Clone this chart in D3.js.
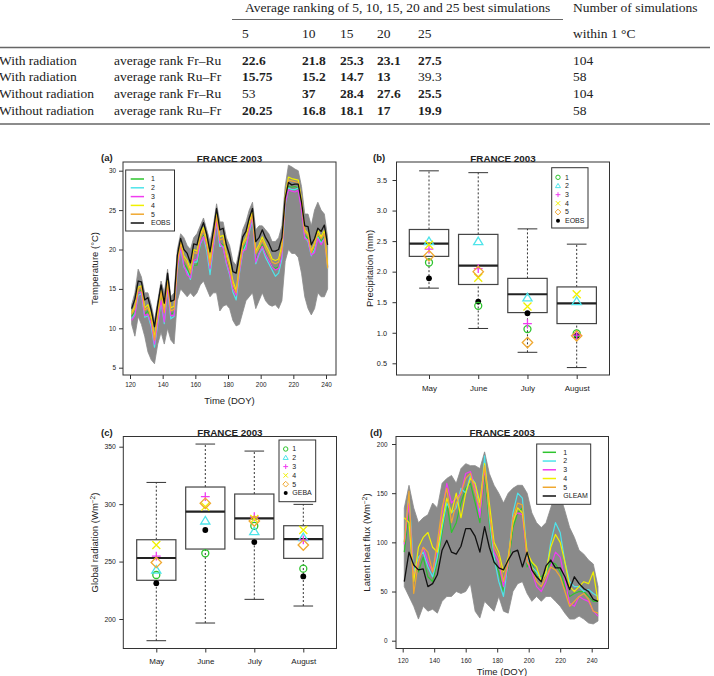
<!DOCTYPE html>
<html>
<head>
<meta charset="utf-8">
<script src="https://cdn.jsdelivr.net/npm/d3@7"></script>
<style>
  body { margin: 0; background: #fff; }
  svg text { font-family: "Liberation Sans", Arial, sans-serif; fill: #222; }
  .tbl text { font-family: "Liberation Serif", "Times New Roman", serif; font-size: 13.5px; fill: #222; }
</style>
</head>
<body>
<svg id="fig" width="714" height="676"></svg>
<script>
// ---------- table ----------
const tableCols = ["5", "10", "15", "20", "25"];
const tableRowLabels = ["With radiation", "With radiation", "Without radiation", "Without radiation"];
const tableRowRanks = ["average rank Fr–Ru", "average rank Ru–Fr", "average rank Fr–Ru", "average rank Ru–Fr"];
const tableValues = [
  ["22.6", "21.8", "25.3", "23.1", "27.5"],
  ["15.75", "15.2", "14.7", "13", "39.3"],
  ["53", "37", "28.4", "27.6", "25.5"],
  ["20.25", "16.8", "18.1", "17", "19.9"]
];
const tableBold = [[1, 1, 1, 1, 1], [1, 1, 1, 1, 0], [0, 1, 1, 1, 1], [1, 1, 1, 1, 1]];
const tableCount = ["104", "58", "104", "58"];

// ---------- series names ----------
const bestNames = ["1", "2", "3", "4", "5"];

// ---------- (a) temperature, DOY 121..241 every 2 days ----------
const tempDoy = d3.range(121, 242, 2);
const tempEobs = [12.5,13.7,16.0,15.9,13.6,13.9,12.3,10.2,13.0,15.5,13.2,17.0,13.4,13.6,19.3,21.4,20.0,19.5,18.3,20.7,20.6,22.3,23.4,21.9,19.7,22.3,25.2,22.5,22.7,20.6,19.3,17.2,17.0,19.3,21.6,22.3,24.0,25.2,21.0,21.5,22.5,21.5,20.8,19.8,19.8,20.0,21.5,26.5,28.5,28.2,28.3,28.3,26.0,23.0,22.9,20.6,21.4,22.7,22.3,23.1,20.6];
const temp1 = [11.5,12.2,14.6,14.8,11.8,12.2,10.8,8.2,11.2,14.0,11.0,15.5,11.8,12.0,17.8,20.5,18.2,17.6,16.6,18.0,18.0,20.5,21.8,20.2,17.4,20.6,23.8,20.8,20.6,18.6,17.2,15.2,14.6,17.4,20.0,20.8,22.4,24.0,18.6,19.8,20.6,19.6,18.6,17.8,17.6,17.8,19.4,26.0,28.0,27.9,28.0,27.8,25.4,21.8,21.4,19.4,20.2,21.8,21.0,21.6,17.8];
const temp2 = [11.2,11.8,14.2,14.4,11.4,11.6,10.2,7.6,10.6,13.4,10.6,15.0,11.2,11.5,17.4,20.2,17.8,17.2,16.2,18.4,18.4,20.6,21.6,19.8,16.8,20.2,23.4,20.4,20.4,18.2,16.8,14.6,13.6,17.0,19.6,20.6,22.2,23.8,18.2,19.4,20.2,19.0,18.2,17.4,16.6,17.0,18.8,25.6,27.8,27.6,27.6,27.8,25.2,21.6,21.0,19.2,20.0,21.6,20.8,21.4,17.6];
const temp3 = [11.0,11.6,14.6,14.6,11.6,11.8,10.6,8.0,10.8,13.6,10.8,15.2,11.6,11.6,17.6,20.4,18.0,16.8,16.4,18.6,18.8,20.8,21.6,20.4,17.6,20.4,23.6,20.8,20.2,18.4,17.0,15.0,14.2,17.2,19.8,20.0,22.4,24.2,18.4,19.6,20.4,19.4,18.6,17.8,17.4,17.6,19.2,25.8,27.6,27.4,27.3,27.5,25.0,21.4,21.2,19.3,19.6,21.4,20.6,21.4,17.8];
const temp4 = [12.0,12.8,15.2,15.4,12.6,13.0,11.5,8.8,12.0,14.8,12.4,16.2,12.6,12.8,18.6,21.0,19.2,18.6,17.5,20.0,19.8,21.8,22.8,21.0,18.6,21.6,24.6,21.6,21.8,19.6,18.2,16.0,14.8,18.0,20.8,21.5,23.4,24.8,19.8,20.6,21.6,20.6,19.8,18.8,18.6,18.8,20.5,26.8,29.2,29.0,28.9,28.8,26.4,22.5,22.0,19.8,20.8,22.4,21.6,22.4,18.0];
const temp5 = [11.8,12.5,15.0,15.2,12.3,12.6,11.2,8.5,11.7,14.6,12.0,15.8,12.2,12.4,18.2,20.8,18.8,18.2,17.0,19.6,19.5,21.5,22.5,20.6,18.0,21.2,24.2,21.2,21.4,19.2,17.8,15.6,14.5,17.6,20.5,21.2,23.0,24.5,19.5,20.2,21.2,20.2,19.4,18.4,18.2,18.4,20.0,26.4,28.8,28.7,28.6,28.5,26.0,22.2,21.8,19.6,20.6,22.0,21.4,22.0,17.6];
const tempEnsMin = [10.5,9.0,11.5,10.5,9.0,7.0,6.0,5.5,8.0,9.5,8.0,10.0,8.5,8.0,13.5,15.0,14.5,14.0,14.5,14.0,14.5,15.5,16.0,15.0,14.0,14.5,14.5,12.2,12.8,13.0,12.5,11.0,10.3,10.5,12.0,13.5,14.0,14.5,12.5,13.5,14.5,13.5,13.0,12.8,13.0,12.5,13.5,18.5,20.0,19.5,19.5,19.0,17.0,14.0,12.5,11.7,12.5,14.5,14.0,14.0,15.0];
const tempEnsMax = [13.0,14.5,17.5,16.5,14.5,14.5,13.0,11.0,13.5,16.0,14.5,17.5,14.0,14.5,20.0,22.0,21.5,20.5,20.0,21.5,22.0,23.0,24.0,22.5,21.0,23.0,25.8,23.5,23.5,21.5,20.5,18.5,18.0,20.0,22.5,23.5,25.0,26.0,22.5,23.0,23.0,22.5,22.0,21.0,21.0,21.5,23.0,28.0,30.7,30.5,30.2,30.0,28.0,24.5,24.5,23.0,25.0,26.0,25.0,24.5,21.5];
const tempTicksX = [120, 140, 160, 180, 200, 220, 240];
const tempTicksY = [5, 10, 15, 20, 25, 30];

// ---------- (b) precipitation boxplots ----------
const months = ["May", "June", "July", "August"];
const precipLow = [1.73, 1.07, 0.68, 0.43];
const precipQ1 = [2.25, 1.79, 1.33, 1.15];
const precipMed = [2.46, 2.10, 1.63, 1.48];
const precipQ3 = [2.69, 2.61, 1.89, 1.75];
const precipHigh = [3.65, 3.62, 2.70, 2.45];
const precip1 = [2.15, 1.44, 1.06, 0.99];
const precip2 = [2.49, 2.49, 1.57, 1.51];
const precip3 = [2.37, 2.05, 1.15, 0.96];
const precip4 = [2.44, 1.90, 1.43, 1.63];
const precip5 = [2.26, 2.00, 0.84, 0.95];
const precipEobs = [1.89, 1.51, 1.32, 0.95];
const precipTicks = [0.5, 1.0, 1.5, 2.0, 2.5, 3.0, 3.5];

// ---------- (c) global radiation boxplots ----------
const radLow = [181.1, 196.5, 217.1, 211.3];
const radQ1 = [233.7, 260.9, 269.6, 252.8];
const radMed = [253.1, 293.4, 287.6, 269.6];
const radQ3 = [269.0, 314.9, 308.8, 281.2];
const radHigh = [318.9, 352.3, 346.2, 299.8];
const rad1 = [238.3, 257.2, 281.0, 243.8];
const rad2 = [242.5, 285.3, 276.0, 270.8];
const rad3 = [254.8, 306.5, 289.0, 268.8];
const rad4 = [264.4, 297.8, 287.0, 277.5];
const rad5 = [249.2, 300.7, 285.3, 264.4];
const radGeba = [231.2, 277.5, 267.0, 237.1];
const radTicks = [200, 250, 300, 350];

// ---------- (d) latent heat flux, DOY 121..244 every 3 days ----------
const leDoy = d3.range(121, 245, 3);
const leGleam = [60,90,77,72,73,55,58,67,92,102,90,88,96,114,114,106,90,116,95,80,74,72,82,90,92,75,90,72,65,60,76,82,74,74,65,52,65,58,53,50,42,40];
const le1 = [90,130,75,70,85,65,60,80,110,140,110,120,140,155,160,140,120,170,120,80,70,50,75,115,130,135,75,80,65,65,70,80,78,70,55,45,48,50,50,45,40,40];
const le2 = [100,148,70,85,90,75,65,85,115,140,130,135,155,150,168,160,130,188,125,85,60,45,80,130,150,145,85,75,70,62,68,100,120,110,80,60,55,55,50,52,48,45];
const le3 = [98,140,65,80,95,80,70,95,130,160,140,145,150,170,172,155,125,175,135,90,80,55,78,125,130,128,80,70,55,50,60,75,90,85,62,38,35,45,42,40,30,25];
const le4 = [125,120,60,95,105,110,95,90,120,145,130,150,125,150,165,160,140,180,140,100,90,70,85,120,135,130,90,80,75,60,70,95,108,100,80,55,50,55,60,58,70,40];
const le5 = [100,152,48,80,95,90,70,100,135,155,120,140,150,165,170,150,135,178,130,95,85,60,80,125,140,138,80,75,60,55,65,75,72,65,50,35,40,45,48,42,30,28];
const leEnsMin = [55,45,35,22,35,30,32,28,40,45,45,50,48,50,58,30,23,40,35,30,45,30,28,50,58,60,48,40,45,40,45,45,40,35,28,22,22,25,22,18,17,20];
const leEnsMax = [135,158,135,120,125,128,140,135,160,165,168,160,175,180,178,178,175,192,170,158,150,140,150,155,158,158,150,130,120,115,120,135,150,148,132,115,105,92,88,82,78,55];
const leTicksX = [120, 140, 160, 180, 200, 220, 240];
const leTicksY = [0, 50, 100, 150, 200];

// ---------- styles ----------
const bestColors = ["#2ec42e", "#4ee4ea", "#f03cf0", "#f0f000", "#f0a830"];
const bestShapes = ["circle", "triangle", "plus", "cross", "diamond"];
const ensGray = "#8a8a8a";
const frameCol = "#333";

const svg = d3.select("#fig");

// ================= table =================
const tbl = svg.append("g").attr("class", "tbl");
const colX = d3.scaleOrdinal().domain(tableCols).range([242, 302, 340, 377, 418]);
const countX = 573;
const rowY = d3.scaleLinear().domain([0, 3]).range([64.5, 114.5]);

tbl.append("text").attr("x", 245).attr("y", 12)
  .text("Average ranking of 5, 10, 15, 20 and 25 best simulations");
tbl.append("text").attr("x", countX).attr("y", 12).text("Number of simulations");
tbl.append("line").attr("x1", 232).attr("x2", 563).attr("y1", 19.5).attr("y2", 19.5)
  .attr("stroke", "#666").attr("stroke-width", 1);
tableCols.forEach(c => tbl.append("text").attr("x", colX(c)).attr("y", 38).text(c));
tbl.append("text").attr("x", countX).attr("y", 38).text("within 1 °C");
tbl.append("line").attr("x1", 0).attr("x2", 710).attr("y1", 47.5).attr("y2", 47.5)
  .attr("stroke", "#666").attr("stroke-width", 1.5);
tbl.append("line").attr("x1", 0).attr("x2", 710).attr("y1", 124).attr("y2", 124)
  .attr("stroke", "#666").attr("stroke-width", 1.5);

tableRowLabels.forEach((lab, i) => {
  const y = rowY(i);
  tbl.append("text").attr("x", -1).attr("y", y).text(lab);
  tbl.append("text").attr("x", 114).attr("y", y).text(tableRowRanks[i]);
  tableValues[i].forEach((v, j) => {
    tbl.append("text").attr("x", colX(tableCols[j])).attr("y", y)
      .attr("font-weight", tableBold[i][j] ? "bold" : "normal").text(v);
  });
  tbl.append("text").attr("x", countX).attr("y", y).text(tableCount[i]);
});

// ================= helpers =================
function frame(box) {
  svg.append("rect").attr("x", box.x0).attr("y", box.y0)
    .attr("width", box.x1 - box.x0).attr("height", box.y1 - box.y0)
    .attr("fill", "none").attr("stroke", frameCol).attr("stroke-width", 1);
}

function styleAxis(g, fs) {
  g.select(".domain").remove();
  g.selectAll(".tick line").attr("stroke", frameCol);
  g.selectAll(".tick text").attr("font-size", fs + "px").attr("fill", "#333")
    .attr("font-family", "Liberation Sans, Arial, sans-serif");
}

function titles(box, letter, letterX) {
  const cx = (box.x0 + box.x1) / 2;
  svg.append("text").attr("x", cx).attr("y", box.y0 - 0.5)
    .attr("text-anchor", "middle").attr("font-weight", "bold").attr("font-size", "9.8px")
    .text("FRANCE 2003");
  svg.append("text").attr("x", letterX).attr("y", box.y0 - 1)
    .attr("font-weight", "bold").attr("font-size", "9.5px").text(letter);
}

function yTitle(x, y, main, sup) {
  const t = svg.append("text")
    .attr("transform", `translate(${x},${y}) rotate(-90)`)
    .attr("text-anchor", "middle").attr("dy", "0.35em").attr("font-size", "9.5px")
    .attr("fill", "#333");
  t.append("tspan").text(main);
  if (sup) {
    t.append("tspan").attr("dy", -3.5).attr("font-size", "6.5px").text(sup);
    t.append("tspan").attr("dy", 3.5).attr("font-size", "9.5px").text(")");
  }
}

function xTitle(x, y, txt) {
  svg.append("text").attr("x", x).attr("y", y).attr("text-anchor", "middle")
    .attr("dy", "0.35em").attr("font-size", "9.5px").attr("fill", "#333").text(txt);
}

function symbolPath(shape, s) {
  switch (shape) {
    case "circle": return `M${s},0A${s},${s} 0 1,1 ${-s},0A${s},${s} 0 1,1 ${s},0Z`;
    case "triangle": return `M0,${-s * 1.15}L${s * 1.15},${s * 0.75}L${-s * 1.15},${s * 0.75}Z`;
    case "plus": return `M${-s * 1.1},0L${s * 1.1},0M0,${-s * 1.1}L0,${s * 1.1}`;
    case "cross": return `M${-s},${-s}L${s},${s}M${-s},${s}L${s},${-s}`;
    case "diamond": return `M0,${-s * 1.3}L${s * 1.3},0L0,${s * 1.3}L${-s * 1.3},0Z`;
  }
}

function lineLegend(box, rows, lineX, labelX, names, colors) {
  svg.append("rect").attr("x", box.x0).attr("y", box.y0)
    .attr("width", box.x1 - box.x0).attr("height", box.y1 - box.y0)
    .attr("fill", "#fff").attr("stroke", frameCol).attr("stroke-width", 1);
  names.forEach((n, i) => {
    svg.append("line").attr("x1", lineX[0]).attr("x2", lineX[1])
      .attr("y1", rows(i)).attr("y2", rows(i))
      .attr("stroke", colors[i]).attr("stroke-width", 1.5);
    svg.append("text").attr("x", labelX).attr("y", rows(i)).attr("dy", "0.35em")
      .attr("font-size", "7px").attr("fill", "#333").text(n);
  });
}

function symLegend(box, rows, symX, labelX, names, obsName) {
  svg.append("rect").attr("x", box.x0).attr("y", box.y0)
    .attr("width", box.x1 - box.x0).attr("height", box.y1 - box.y0)
    .attr("fill", "#fff").attr("stroke", frameCol).attr("stroke-width", 1);
  names.forEach((n, i) => {
    svg.append("path").attr("transform", `translate(${symX},${rows(i)})`)
      .attr("d", symbolPath(bestShapes[i], 2.2)).attr("fill", "none")
      .attr("stroke", bestColors[i]).attr("stroke-width", 1);
    svg.append("text").attr("x", labelX).attr("y", rows(i)).attr("dy", "0.35em")
      .attr("font-size", "7px").attr("fill", "#333").text(n);
  });
  svg.append("circle").attr("cx", symX).attr("cy", rows(5)).attr("r", 2)
    .attr("fill", "#000");
  svg.append("text").attr("x", labelX).attr("y", rows(5)).attr("dy", "0.35em")
    .attr("font-size", "7px").attr("fill", "#333").text(obsName);
}

function timePanel(cfg) {
  const { box, x, y, doy, ensMin, ensMax, best, obs } = cfg;
  const area = d3.area().x((d, i) => x(doy[i])).y0((d, i) => y(ensMin[i])).y1((d, i) => y(ensMax[i]));
  svg.append("path").attr("d", area(doy)).attr("fill", ensGray).attr("stroke", ensGray)
    .attr("stroke-width", 0.8).attr("stroke-linejoin", "round");
  const line = d3.line().x((d, i) => x(doy[i])).y(d => y(d));
  best.forEach((s, k) => {
    svg.append("path").attr("d", line(s)).attr("fill", "none")
      .attr("stroke", bestColors[k]).attr("stroke-width", 1.2).attr("stroke-linejoin", "round");
  });
  svg.append("path").attr("d", line(obs)).attr("fill", "none")
    .attr("stroke", "#111").attr("stroke-width", 1.3).attr("stroke-linejoin", "round");
}

function boxPanel(cfg) {
  const { x, y, low, q1, med, q3, high, best, obs } = cfg;
  months.forEach((m, i) => {
    const cx = x(i + 1);
    const hw = x(1.4) - x(1);
    const cap = x(1.2) - x(1);
    // whiskers
    [[q3[i], high[i]], [low[i], q1[i]]].forEach(([a, b]) => {
      svg.append("line").attr("x1", cx).attr("x2", cx).attr("y1", y(a)).attr("y2", y(b))
        .attr("stroke", "#333").attr("stroke-width", 1).attr("stroke-dasharray", "2,2");
    });
    [low[i], high[i]].forEach(v => {
      svg.append("line").attr("x1", cx - cap).attr("x2", cx + cap).attr("y1", y(v)).attr("y2", y(v))
        .attr("stroke", "#333").attr("stroke-width", 1);
    });
    svg.append("rect").attr("x", cx - hw).attr("y", y(q3[i]))
      .attr("width", 2 * hw).attr("height", y(q1[i]) - y(q3[i]))
      .attr("fill", "#fff").attr("stroke", "#444").attr("stroke-width", 1.2);
    svg.append("line").attr("x1", cx - hw).attr("x2", cx + hw).attr("y1", y(med[i])).attr("y2", y(med[i]))
      .attr("stroke", "#222").attr("stroke-width", 2.2);
    svg.append("circle").attr("cx", cx).attr("cy", y(obs[i])).attr("r", 2.9).attr("fill", "#000");
    best.forEach((s, k) => {
      svg.append("path").attr("transform", `translate(${cx},${y(s[i])})`)
        .attr("d", symbolPath(bestShapes[k], bestShapes[k] === "circle" ? 3.5 : 4))
        .attr("fill", "none").attr("stroke", bestColors[k]).attr("stroke-width", 1.3);
    });
  });
}

// ================= (a) =================
const boxA = { x0: 123, x1: 336, y0: 162, y1: 375 };
const xA = d3.scaleLinear().domain([120, 240]).range([130, 326]);
const yA = d3.scaleLinear().domain([5, 30]).range([367.7, 170.7]);
timePanel({ box: boxA, x: xA, y: yA, doy: tempDoy, ensMin: tempEnsMin, ensMax: tempEnsMax,
  best: [temp1, temp2, temp3, temp4, temp5], obs: tempEobs });
svg.append("g").attr("transform", `translate(0,${boxA.y1})`)
  .call(d3.axisBottom(xA).tickValues(tempTicksX).tickSize(4).tickPadding(3))
  .call(g => styleAxis(g, 6.4));
svg.append("g").attr("transform", `translate(${boxA.x0},0)`)
  .call(d3.axisLeft(yA).tickValues(tempTicksY).tickSize(4).tickPadding(3))
  .call(g => styleAxis(g, 6.4));
frame(boxA);
lineLegend({ x0: 125.7, x1: 174.5, y0: 170, y1: 231 },
  d3.scaleLinear().domain([0, 5]).range([179, 223]), [130.7, 144], 151,
  bestNames.concat(["EOBS"]), bestColors.concat(["#111"]));
titles(boxA, "(a)", 101);
yTitle(95, 268.5, "Temperature (°C)");
xTitle(229.5, 401, "Time (DOY)");

// ================= (b) =================
const boxB = { x0: 396.5, x1: 609.5, y0: 162, y1: 375 };
const xB = d3.scaleLinear().domain([1, 4]).range([429, 576.7]);
const yB = d3.scaleLinear().domain([0.5, 3.5]).range([363.3, 180]);
boxPanel({ x: xB, y: yB, low: precipLow, q1: precipQ1, med: precipMed, q3: precipQ3, high: precipHigh,
  best: [precip1, precip2, precip3, precip4, precip5], obs: precipEobs });
svg.append("g").attr("transform", `translate(0,${boxB.y1})`)
  .call(d3.axisBottom(xB).tickValues([1, 2, 3, 4]).tickFormat(d => months[d - 1]).tickSize(4).tickPadding(6))
  .call(g => styleAxis(g, 8));
svg.append("g").attr("transform", `translate(${boxB.x0},0)`)
  .call(d3.axisLeft(yB).tickValues(precipTicks).tickFormat(d3.format(".1f")).tickSize(4).tickPadding(5.5))
  .call(g => styleAxis(g, 7.3));
frame(boxB);
symLegend({ x0: 551.7, x1: 588, y0: 167.7, y1: 228 },
  d3.scaleLinear().domain([0, 5]).range([177.3, 220.7]), 558, 565, bestNames, "EOBS");
titles(boxB, "(b)", 373);
yTitle(370, 268.5, "Precipitation (mm)");

// ================= (c) =================
const boxC = { x0: 123.3, x1: 336.5, y0: 436.5, y1: 648.5 };
const xC = d3.scaleLinear().domain([1, 4]).range([156.3, 303.3]);
const yC = d3.scaleLinear().domain([200, 350]).range([619, 446.7]);
boxPanel({ x: xC, y: yC, low: radLow, q1: radQ1, med: radMed, q3: radQ3, high: radHigh,
  best: [rad1, rad2, rad3, rad4, rad5], obs: radGeba });
svg.append("g").attr("transform", `translate(0,${boxC.y1})`)
  .call(d3.axisBottom(xC).tickValues([1, 2, 3, 4]).tickFormat(d => months[d - 1]).tickSize(4).tickPadding(6))
  .call(g => styleAxis(g, 8));
svg.append("g").attr("transform", `translate(${boxC.x0},0)`)
  .call(d3.axisLeft(yC).tickValues(radTicks).tickSize(4).tickPadding(3.5))
  .call(g => styleAxis(g, 6.8));
frame(boxC);
symLegend({ x0: 279, x1: 315.7, y0: 440, y1: 501.7 },
  d3.scaleLinear().domain([0, 5]).range([449, 493]), 285.7, 292.3, bestNames, "GEBA");
titles(boxC, "(c)", 101);
yTitle(95, 542.5, "Global radiation (Wm", "−2");

// ================= (d) =================
const boxD = { x0: 396, x1: 608.5, y0: 436.5, y1: 648.5 };
const xD = d3.scaleLinear().domain([120, 240]).range([402.7, 591.7]);
const yD = d3.scaleLinear().domain([0, 200]).range([640.7, 444]);
timePanel({ box: boxD, x: xD, y: yD, doy: leDoy, ensMin: leEnsMin, ensMax: leEnsMax,
  best: [le1, le2, le3, le4, le5], obs: leGleam });
svg.append("g").attr("transform", `translate(0,${boxD.y1})`)
  .call(d3.axisBottom(xD).tickValues(leTicksX).tickSize(4).tickPadding(6))
  .call(g => styleAxis(g, 6.4));
svg.append("g").attr("transform", `translate(${boxD.x0},0)`)
  .call(d3.axisLeft(yD).tickValues(leTicksY).tickSize(4).tickPadding(4.5))
  .call(g => styleAxis(g, 6.4));
frame(boxD);
lineLegend({ x0: 536.7, x1: 590.7, y0: 444, y1: 504.3 },
  d3.scaleLinear().domain([0, 5]).range([452.3, 496]), [542.7, 556], 563.3,
  bestNames.concat(["GLEAM"]), bestColors.concat(["#111"]));
titles(boxD, "(d)", 370);
yTitle(367, 542.5, "Latent heat flux (Wm", "−2");
xTitle(502, 672, "Time (DOY)");
</script>
</body>
</html>
